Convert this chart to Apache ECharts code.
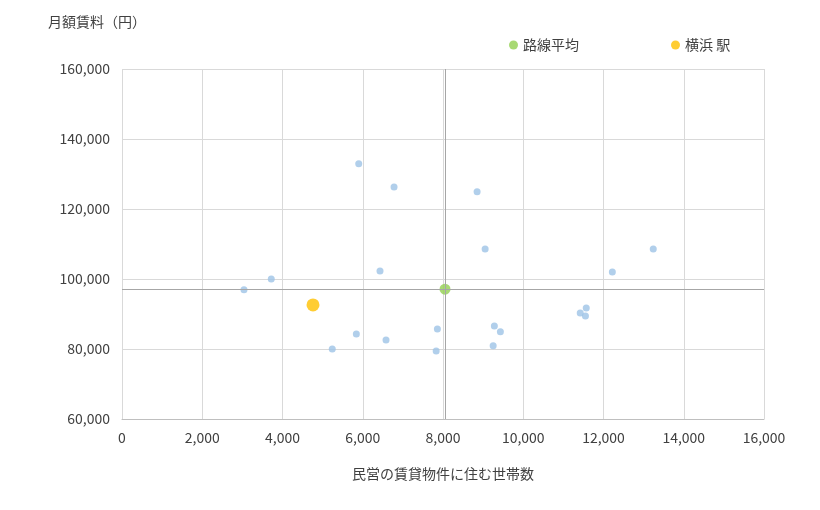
<!DOCTYPE html>
<html><head><meta charset="utf-8">
<script src="https://cdn.jsdelivr.net/npm/echarts@6/dist/echarts.min.js"></script>
<style>html,body{margin:0;background:#fff}#c{width:820px;height:510px}</style>
</head><body><div id="c"></div>
<script>
// 周辺駅：民営賃貸世帯数, 月額賃料
var stationX = [5900, 6780, 8850, 9050, 13240, 12220, 6430, 3720, 3040, 11420, 11570, 11550, 9280, 9430, 7860, 5840, 6580, 9250, 5240, 7830];
var stationY = [132900, 126300, 124900, 108600, 108600, 102000, 102300, 100000, 96900, 90300, 91700, 89400, 86600, 84900, 85700, 84300, 82600, 80900, 80000, 79400];
var avgPoint = [8050, 97100];
var targetPoint = [4760, 92600];
var font = '"Noto Sans CJK JP", sans-serif';

var chart = echarts.init(document.getElementById('c'));
chart.setOption({
  animation: false,
  textStyle: { fontFamily: font },
  grid: { left: 122, right: 56, top: 69, bottom: 91 },
  legend: {
    top: 33, left: 504, itemGap: 92, itemWidth: 9, itemHeight: 9,
    textStyle: { fontSize: 14, color: '#404040', fontFamily: font },
    data: [{ name: '路線平均', icon: 'circle' }, { name: '横浜 駅', icon: 'circle' }]
  },
  xAxis: {
    type: 'value', min: 0, max: 16000, interval: 2000,
    name: '民営の賃貸物件に住む世帯数', nameLocation: 'middle', nameGap: 48,
    nameTextStyle: { fontSize: 14, color: '#404040' },
    axisLine: { lineStyle: { color: '#bfbfbf' } }, axisTick: { show: false },
    axisLabel: { fontSize: 14, color: '#404040', margin: 12 },
    splitLine: { lineStyle: { color: '#d9d9d9' } }
  },
  yAxis: {
    type: 'value', min: 60000, max: 160000, interval: 20000,
    name: '月額賃料（円）', nameLocation: 'end', nameGap: 40,
    nameTextStyle: { fontSize: 14, color: '#404040', align: 'center', padding: [0, 0, 0, -50] },
    axisLine: { show: false }, axisTick: { show: false },
    axisLabel: { fontSize: 14, color: '#404040', margin: 12 },
    splitLine: { lineStyle: { color: '#d9d9d9' } }
  },
  series: [
    {
      type: 'scatter', symbolSize: 7, itemStyle: { color: '#9dc3e6' },
      data: stationX.map(function (x, i) { return [x, stationY[i]]; }),
      markLine: {
        silent: true, symbol: 'none', label: { show: false },
        lineStyle: { color: '#a6a6a6', type: 'solid', width: 1 },
        data: [{ xAxis: avgPoint[0] }, { yAxis: avgPoint[1] }]
      }
    },
    { name: '路線平均', type: 'scatter', symbolSize: 11, itemStyle: { color: '#92d050' }, data: [avgPoint] },
    { name: '横浜 駅', type: 'scatter', symbolSize: 13, itemStyle: { color: '#ffc000' }, data: [targetPoint] }
  ]
});
</script></body></html>
